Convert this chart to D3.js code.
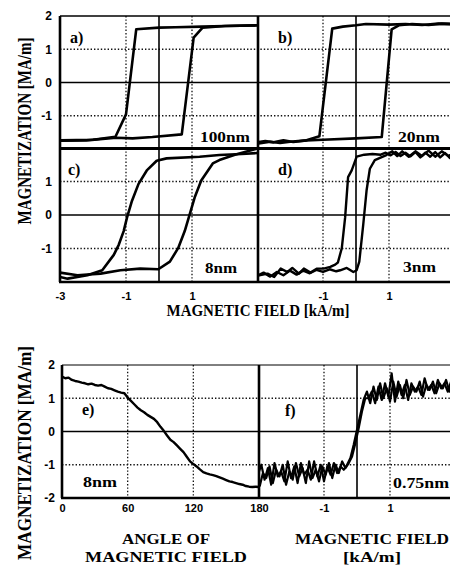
<!DOCTYPE html>
<html>
<head>
<meta charset="utf-8">
<script src="https://cdn.jsdelivr.net/npm/d3@7"></script>
<style>
  body { margin: 0; background: #fff; }
</style>
</head>
<body>
<div id="chart"></div>
<script>
// ---- data: [field kA/m, magnetization MA/m] ----
const aDown = [[3,1.72],[2,1.7],[1.3,1.68],[0.5,1.66],[0,1.65],[-0.69,1.6],[-1.0,-0.96],[-1.32,-1.63],[-2,-1.72],[-3,-1.74]];
const aUp   = [[-3,-1.75],[-2.2,-1.74],[-1.3,-1.66],[-0.8,-1.68],[-0.2,-1.64],[0.69,-1.56],[1.05,1.35],[1.32,1.65],[2,1.7],[3,1.72]];

const bDown = [[3,1.75],[2.5,1.77],[2,1.73],[1.5,1.76],[1,1.74],[0.3,1.76],[0,1.72],[-0.4,1.68],[-0.72,1.62],[-1.11,-1.62],[-1.5,-1.74],[-2,-1.78],[-2.3,-1.82],[-2.6,-1.78],[-3,-1.84]];
const bUp   = [[-3,-1.8],[-2.75,-1.76],[-2.5,-1.8],[-2.2,-1.74],[-1.9,-1.79],[-1.5,-1.74],[-1,-1.72],[0,-1.68],[0.78,-1.64],[1.08,1.6],[1.3,1.72],[1.7,1.76],[2.2,1.73],[2.6,1.77],[3,1.76]];

const cDown = [[3,1.85],[2.5,1.82],[1.83,1.79],[1.23,1.74],[0.23,1.69],[-0.07,1.62],[-0.37,1.33],[-0.62,0.93],[-0.82,0.42],[-0.97,-0.08],[-1.07,-0.48],[-1.22,-0.89],[-1.37,-1.19],[-1.72,-1.65],[-2.17,-1.8],[-2.77,-1.9],[-3,-1.85]];
const cUp   = [[-3,-1.72],[-2.47,-1.8],[-1.77,-1.75],[-1.17,-1.65],[-0.57,-1.6],[-0.02,-1.62],[0.33,-1.39],[0.58,-0.99],[0.78,-0.48],[0.93,0.02],[1.08,0.52],[1.28,1.03],[1.63,1.54],[1.83,1.64],[2.3,1.8],[2.93,1.97]];

const dDown = [[3,1.82],[2.85,1.7],[2.7,1.85],[2.55,1.72],[2.4,1.88],[2.25,1.74],[2.1,1.86],[1.95,1.72],[1.8,1.88],[1.65,1.75],[1.5,1.86],[1.35,1.76],[1.2,1.88],[1.05,1.78],[0.9,1.86],[0.75,1.8],[0.5,1.82],[0.25,1.8],[0.02,1.74],[-0.13,1.33],[-0.24,1.13],[-0.33,-0.08],[-0.43,-0.99],[-0.55,-1.42],[-0.63,-1.48],[-0.78,-1.55],[-0.98,-1.6],[-1.18,-1.6],[-1.38,-1.72],[-1.58,-1.6],[-1.73,-1.75],[-1.93,-1.58],[-2.08,-1.7],[-2.28,-1.6],[-2.48,-1.85],[-2.68,-1.75],[-2.93,-1.8],[-3,-1.78]];
const dUp   = [[-3,-1.82],[-2.8,-1.72],[-2.6,-1.84],[-2.4,-1.7],[-2.2,-1.8],[-2.0,-1.66],[-1.8,-1.78],[-1.6,-1.66],[-1.4,-1.74],[-1.2,-1.64],[-1.0,-1.7],[-0.8,-1.62],[-0.6,-1.68],[-0.48,-1.65],[-0.28,-1.58],[-0.08,-1.7],[0.02,-1.65],[0.1,-1.39],[0.22,-0.28],[0.32,0.73],[0.42,1.38],[0.57,1.64],[0.92,1.79],[1.1,1.9],[1.25,1.76],[1.4,1.9],[1.6,1.74],[1.8,1.9],[2.0,1.76],[2.2,1.92],[2.4,1.74],[2.6,1.9],[2.8,1.76],[3,1.88]];

// panel e: [angle deg, magnetization]
const eCurve = [[0,1.65],[3,1.6],[6,1.62],[9,1.55],[12,1.52],[15,1.5],[18,1.47],[21,1.45],[24,1.42],[27,1.44],[30,1.4],[33,1.38],[36,1.4],[39,1.35],[42,1.3],[45,1.28],[48,1.24],[51,1.2],[54,1.17],[57,1.15],[60,1.02],[63,0.92],[66,0.82],[69,0.72],[72,0.64],[75,0.58],[78,0.5],[81,0.44],[84,0.38],[87,0.28],[90,0.14],[93,0.02],[96,-0.12],[99,-0.25],[102,-0.32],[105,-0.42],[108,-0.52],[111,-0.62],[114,-0.76],[117,-0.9],[120,-0.98],[123,-1.05],[126,-1.14],[129,-1.22],[132,-1.26],[135,-1.29],[138,-1.31],[141,-1.34],[144,-1.38],[147,-1.42],[150,-1.46],[153,-1.5],[156,-1.52],[159,-1.55],[162,-1.58],[165,-1.6],[168,-1.64],[171,-1.66],[174,-1.67],[177,-1.66],[180,-1.67]];

const fUp = [[-3.0,-1.3],[-2.9,-1.0],[-2.8,-1.45],[-2.7,-1.1],[-2.6,-1.6],[-2.5,-0.95],[-2.4,-1.35],[-2.3,-1.2],[-2.2,-1.5],[-2.1,-0.9],[-2.0,-1.4],[-1.9,-1.05],[-1.8,-1.55],[-1.7,-0.95],[-1.6,-1.3],[-1.5,-1.15],[-1.4,-1.45],[-1.3,-0.9],[-1.2,-1.35],[-1.1,-1.0],[-1.0,-1.5],[-0.9,-1.05],[-0.8,-1.3],[-0.7,-0.95],[-0.6,-1.25],[-0.5,-1.05],[-0.4,-1.15],[-0.3,-1.0],[-0.2,-0.8],[-0.1,-0.4],[0.0,0.05],[0.1,0.5],[0.2,0.95],[0.3,1.2],[0.4,0.85],[0.5,1.35],[0.6,0.95],[0.7,1.45],[0.8,1.0],[0.9,1.3],[1.0,0.9],[1.1,1.5],[1.2,1.05],[1.3,1.4],[1.4,1.0],[1.5,1.55],[1.6,1.1],[1.7,1.35],[1.8,1.2],[1.9,1.5],[2.0,1.05],[2.1,1.4],[2.2,1.25],[2.3,1.5],[2.4,1.15],[2.5,1.45],[2.6,1.3],[2.7,1.55],[2.8,1.2],[2.9,1.45],[3.0,1.35]];
const fDown = [[2.95,1.3],[2.85,1.5],[2.75,1.2],[2.65,1.45],[2.55,1.3],[2.45,1.55],[2.35,1.15],[2.25,1.4],[2.15,1.25],[2.05,1.6],[1.95,1.1],[1.85,1.35],[1.75,1.2],[1.65,1.45],[1.55,0.95],[1.45,1.4],[1.35,1.1],[1.25,1.5],[1.15,0.9],[1.05,1.75],[0.95,1.05],[0.85,1.45],[0.75,0.95],[0.65,1.35],[0.55,0.85],[0.45,1.2],[0.35,1.0],[0.25,1.0],[0.15,0.6],[0.05,0.1],[-0.05,-0.35],[-0.15,-0.75],[-0.25,-0.95],[-0.35,-1.1],[-0.45,-0.9],[-0.55,-1.25],[-0.65,-1.0],[-0.75,-1.4],[-0.85,-0.95],[-0.95,-1.3],[-1.05,-1.05],[-1.15,-1.5],[-1.25,-1.15],[-1.35,-1.4],[-1.45,-0.9],[-1.55,-1.55],[-1.65,-1.1],[-1.75,-1.35],[-1.85,-0.95],[-1.95,-1.45],[-2.05,-1.2],[-2.15,-1.6],[-2.25,-1.0],[-2.35,-1.35],[-2.45,-1.15],[-2.55,-1.55],[-2.65,-1.05],[-2.75,-1.4],[-2.85,-1.25],[-2.95,-1.65]];

// tick labels
const yTicksTop = [-1, 0, 1, 2];
const yTicksMid = [-1, 0, 1];
const yTicksBot = [-2, -1, 0, 1, 2];
const xTicksLeft = [-3, -1, 1];
const xTicksRight = [-1, 1];
const angleTicks = [0, 60, 120, 180];

const W = 450, H = 566;
const serif = '"Liberation Serif", "Times New Roman", serif';
const sans = '"Liberation Sans", Arial, sans-serif';

const svg = d3.select('#chart').append('svg')
    .attr('width', W)
    .attr('height', H)
    .style('background', '#fff');

// scales
const xL = d3.scaleLinear().domain([-3, 3]).range([60, 258]);
const xR = d3.scaleLinear().domain([-3, 3]).range([257, 455]);
const yA = d3.scaleLinear().domain([-2, 2]).range([149, 16]);
const yC = d3.scaleLinear().domain([-2, 2]).range([282, 148]);
const xE = d3.scaleLinear().domain([0, 180]).range([62, 259]);
const xF = d3.scaleLinear().domain([-3, 3]).range([258, 456]);
const yE = d3.scaleLinear().domain([-2, 2]).range([498, 365]);

let clipId = 0;
function panel(x, y, dottedX, solidX, curves, strokeW) {
    const x0 = x.range()[0], x1 = Math.min(x.range()[1], W);
    const y0 = y.range()[1], y1 = y.range()[0];
    const g = svg.append('g');
    const id = 'clip' + (clipId++);
    svg.append('clipPath').attr('id', id)
        .append('rect').attr('x', x0).attr('y', y0).attr('width', x1 - x0).attr('height', y1 - y0);

    // dotted grid
    g.selectAll('.gy').data([-1, 1]).enter().append('line')
        .attr('x1', x0).attr('x2', x1)
        .attr('y1', d => y(d)).attr('y2', d => y(d))
        .attr('stroke', '#111').attr('stroke-width', 1.3).attr('stroke-dasharray', '1.4,2');
    g.selectAll('.gx').data(dottedX).enter().append('line')
        .attr('y1', y0).attr('y2', y1)
        .attr('x1', d => x(d)).attr('x2', d => x(d))
        .attr('stroke', '#111').attr('stroke-width', 1.3).attr('stroke-dasharray', '1.4,2');
    // solid zero lines
    g.append('line')
        .attr('x1', x0).attr('x2', x1).attr('y1', y(0)).attr('y2', y(0))
        .attr('stroke', '#000').attr('stroke-width', 1.6);
    g.selectAll('.zx').data(solidX).enter().append('line')
        .attr('y1', y0).attr('y2', y1)
        .attr('x1', d => x(d)).attr('x2', d => x(d))
        .attr('stroke', '#000').attr('stroke-width', 1.6);

    const line = d3.line().x(d => x(d[0])).y(d => y(d[1]));
    g.append('g').attr('clip-path', `url(#${id})`)
        .selectAll('path').data(curves).enter().append('path')
        .attr('d', line)
        .attr('fill', 'none')
        .attr('stroke', '#000')
        .attr('stroke-width', strokeW)
        .attr('stroke-linejoin', 'round');
}

panel(xL, yA, [-1, 1], [0], [aDown, aUp], 2.6);
panel(xR, yA, [-1, 1], [0], [bDown, bUp], 2.6);
panel(xL, yC, [-1, 1], [0], [cDown, cUp], 2.6);
panel(xR, yC, [-1, 1], [0], [dDown, dUp], 2.4);
panel(xE, yE, [60, 120], [], [eCurve], 2.4);
panel(xF, yE, [-1, 1], [0], [fUp, fDown], 2.2);

// frames
function hline(yv, xa, xb, w) {
    svg.append('line').attr('x1', xa).attr('x2', xb).attr('y1', yv).attr('y2', yv)
        .attr('stroke', '#000').attr('stroke-width', w);
}
function vline(xv, ya, yb, w) {
    svg.append('line').attr('x1', xv).attr('x2', xv).attr('y1', ya).attr('y2', yb)
        .attr('stroke', '#000').attr('stroke-width', w);
}
hline(yA(2), xL(-3), W, 1.6);
hline(148.5, xL(-3), W, 3);
hline(yC(-2), xL(-3) - 1, W, 2.6);
vline(xL(-3), yA(2), yC(-2), 2.6);
vline(258, yA(2), yC(-2), 2.6);

hline(yE(2), xE(0), W, 1);
hline(yE(-2), xE(0) - 1, W, 2.6);
vline(xE(0), yE(2), yE(-2), 2.6);
vline(xE(180), yE(2), yE(-2), 2.6);

// axes (labels only)
const fmt = d => String(d);
function styleAxis(sel, size) {
    sel.select('.domain').remove();
    sel.selectAll('text')
        .attr('fill', '#000')
        .style('font-family', sans)
        .style('font-weight', 'bold')
        .style('font-size', size + 'px');
}
svg.append('g').attr('transform', `translate(${xL(-3)},0)`)
    .call(d3.axisLeft(yA).tickValues(yTicksTop).tickSize(0).tickPadding(8).tickFormat(fmt))
    .call(s => styleAxis(s, 12));
svg.append('g').attr('transform', `translate(${xL(-3)},0)`)
    .call(d3.axisLeft(yC).tickValues(yTicksMid).tickSize(0).tickPadding(8).tickFormat(fmt))
    .call(s => styleAxis(s, 12));
svg.append('g').attr('transform', `translate(${xE(0)},0)`)
    .call(d3.axisLeft(yE).tickValues(yTicksBot).tickSize(0).tickPadding(7).tickFormat(fmt))
    .call(s => styleAxis(s, 12));

function bottomAxis(scale, ticks, yPos, dy) {
    svg.append('g').attr('transform', `translate(0,${yPos})`)
        .call(d3.axisBottom(scale).tickValues(ticks).tickSize(0).tickFormat(fmt))
        .call(s => styleAxis(s, 11))
        .call(s => s.selectAll('text').attr('y', dy).attr('dy', null));
}
bottomAxis(xL, xTicksLeft, yC(-2), 18);
bottomAxis(xR, xTicksRight, yC(-2), 18);
bottomAxis(xE, angleTicks, yE(-2), 14);
bottomAxis(xF, xTicksRight, yE(-2), 14);

// titles
function label(txt, x, y, size, anchor, len, rot) {
    const t = svg.append('text')
        .attr('x', x).attr('y', y)
        .attr('text-anchor', anchor)
        .style('font-family', serif)
        .style('font-weight', 'bold')
        .style('font-size', size + 'px')
        .text(txt);
    if (len) t.attr('textLength', len).attr('lengthAdjust', 'spacingAndGlyphs');
    if (rot) t.attr('transform', `rotate(-90,${x},${y})`);
    return t;
}
label('MAGNETIZATION  [MA/m]', 31, 131, 18, 'middle', 187, true);
label('MAGNETIZATION  [MA/m]', 31, 453, 19, 'middle', 214, true);
label('MAGNETIC FIELD [kA/m]', 258, 316, 16, 'middle', 183);
label('ANGLE OF', 166, 544, 15.5, 'middle', 88);
label('MAGNETIC FIELD', 166, 562, 15.5, 'middle', 162);
label('MAGNETIC FIELD', 372, 544, 15.5, 'middle', 154);
label('[kA/m]', 372, 562, 15.5, 'middle', 58);

// panel letters and thickness labels
label('a)', 70, 43, 16, 'start');
label('b)', 278, 43, 16, 'start');
label('c)', 68, 175, 16, 'start');
label('d)', 278, 175, 16, 'start');
label('e)', 82, 415, 16, 'start');
label('f)', 285, 416, 16, 'start');
label('100nm', 200, 142, 15, 'start', 50);
label('20nm', 398, 142, 15, 'start', 42);
label('8nm', 205, 273, 15, 'start', 32);
label('3nm', 403, 272, 15, 'start', 33);
label('8nm', 83, 487, 15, 'start', 34);
label('0.75nm', 393, 488, 15, 'start', 56);
</script>
</body>
</html>
